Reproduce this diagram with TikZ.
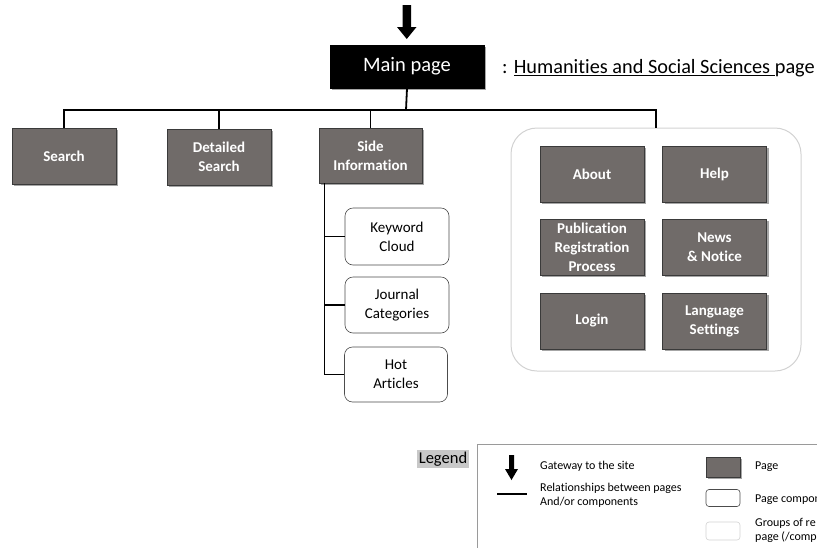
\documentclass[tikz,border=0pt]{standalone}
\usepackage{fontspec}
\setmainfont{Carlito}[Ligatures=NoCommon]
\usetikzlibrary{shadows}
\definecolor{pagegray}{HTML}{706B69}
\definecolor{pageedge}{HTML}{3A3A3A}
\definecolor{grpedge}{HTML}{D2D2D2}
\definecolor{legedge}{HTML}{9A9A9A}
\definecolor{leghl}{HTML}{C8C8C8}
\tikzset{
  pagebox/.style={draw=pageedge, line width=0.9pt, fill=pagegray, text=white,
    font=\fontsize{15}{19}\selectfont\bfseries, align=center, inner sep=0pt,
    minimum width=104pt, minimum height=56pt,
    drop shadow={shadow xshift=2pt, shadow yshift=-2pt, opacity=0.35, fill=black}},
  compbox/.style={draw=black!70, line width=0.6pt, fill=white, rounded corners=8pt,
    font=\fontsize{15}{19}\selectfont, align=center, inner sep=0pt,
    minimum width=104pt, minimum height=56pt},
  grpbox/.style={draw=grpedge, line width=1pt, rounded corners=26pt, inner sep=0pt,
    minimum width=290pt, minimum height=243pt},
  conn/.style={line width=1.8pt, black},
  legtext/.style={font=\fontsize{12}{14}\selectfont, anchor=west, align=left, inner sep=0pt},
}
\begin{document}
\begin{tikzpicture}[x=1pt,y=-1pt]
\useasboundingbox (0,0) rectangle (817,547);
\clip (0,0) rectangle (817,547);
% gateway arrow
\fill[black] (402.5,5) -- (411,5) -- (411,27) -- (416.5,27) -- (406.75,39) -- (397,27) -- (402.5,27) -- cycle;
% main page
\node[pagebox, fill=black, draw=black, minimum width=154pt, minimum height=43pt,
  font=\fontsize{20.5}{24}\selectfont] (main) at (407,66.5) {Main page};
\node[anchor=west, inner sep=0pt, font=\fontsize{20.3}{24}\selectfont] (title) at (502,68)
  {: \underline{Humanities and Social Sciences\ }page};
% top level pages
\node[pagebox] (search) at (64,156) {Search};
\node[pagebox] (dsearch) at (219,157) {Detailed\\Search};
\node[pagebox, minimum width=103pt, minimum height=55pt] (side) at (370.5,155.5) {Side\\Information};
% group
\node[grpbox] (grp) at (656,249.5) {};
\node[pagebox] (about) at (592,174) {About};
\node[pagebox] (help) at (714.5,174) {Help};
\node[pagebox] (pub) at (592,247) {Publication\\Registration\\Process};
\node[pagebox] (news) at (714.5,247) {News\\\&~Notice};
\node[pagebox] (login) at (592,321) {Login};
\node[pagebox] (lang) at (714.5,321) {Language\\Settings};
% components
\node[compbox, minimum height=57pt] (kw) at (397,236.5) {Keyword\\Cloud};
\node[compbox] (jc) at (397,305) {Journal\\Categories};
\node[compbox, minimum width=103pt, minimum height=55pt] (hot) at (396,374.5) {Hot\\Articles};
% connectors
\coordinate (bus) at (406,110);
\draw[conn] (main.south) -- (bus);
\draw[conn] (search.north) -- (search.north |- bus) -- (grp.north |- bus) -- (grp.north);
\draw[conn] (dsearch.north) -- (dsearch.north |- bus);
\draw[conn] (side.north) -- (side.north |- bus);
\coordinate (spine) at ([xshift=6pt]side.south west);
\draw[conn] (spine) |- (kw.west);
\draw[conn] (spine) |- (jc.west);
\draw[conn] (spine) |- (hot.west);
% legend
\node[fill=leghl, inner sep=1.5pt, font=\fontsize{16.5}{18}\selectfont] (legend) at (443,459) {Legend};
\draw[legedge, line width=0.8pt] (477,444) rectangle (840,570);
\fill[black] (509,455) -- (514,455) -- (514,469) -- (518,469) -- (511.5,480) -- (505,469) -- (509,469) -- cycle;
\node[legtext] (l1) at (540,466) {Gateway to the site};
\coordinate (la) at (497,494);
\coordinate (lb) at (527,494);
\draw[conn] (la) -- (lb);
\node[legtext] (l2) at (540,495.5) {Relationships between pages\\And/or components};
\node[draw=pageedge, line width=0.8pt, fill=pagegray, minimum width=34pt, minimum height=20pt, inner sep=0pt,
  drop shadow={shadow xshift=2pt, shadow yshift=-2pt, opacity=0.35, fill=black}] (s1) at (723,467) {};
\node[legtext] (t1) at (755,466.5) {Page};
\node[draw=black!70, line width=0.6pt, rounded corners=3pt, minimum width=34pt, minimum height=17pt, inner sep=0pt] (s2) at (723,498) {};
\node[legtext] (t2) at (755,499.5) {Page compon};
\node[draw=grpedge, line width=0.6pt, rounded corners=3pt, minimum width=34pt, minimum height=18pt, inner sep=0pt] (s3) at (723,531) {};
\node[legtext] (t3) at (755,530) {Groups of re\\page (/comp};
\end{tikzpicture}
\end{document}
